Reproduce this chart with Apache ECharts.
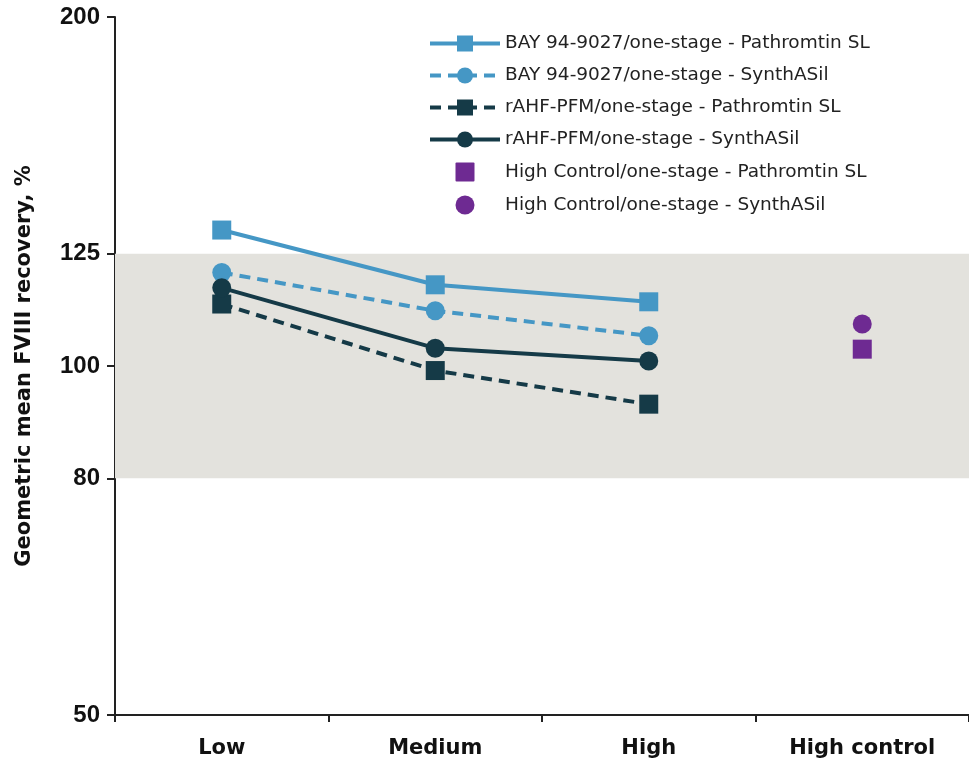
<!DOCTYPE html>
<html lang="en">
<head>
    <meta charset="UTF-8">
    <title>FVIII recovery</title>
    <style>
        html, body { margin: 0; padding: 0; background: #fff; }
        #main { width: 969px; height: 762px; }
    </style>
</head>
<body>
<div id="main"></div>
<script src="https://cdn.jsdelivr.net/npm/echarts@6/dist/echarts.min.js"></script>
<script>
    // categories and tick labels
    let categories = ['Low', 'Medium', 'High', 'High control'];
    let yTicks = [50, 80, 100, 125, 200];

    // geometric mean recovery, %
    let bayPathromtin = [131.0, 117.5, 113.6, null];
    let baySynthasil = [120.4, 111.6, 106.2, null];
    let rahfPathromtin = [113.1, 99.1, 92.7, null];
    let rahfSynthasil = [116.8, 103.6, 101.0, null];
    let ctrlPathromtin = [null, null, null, 103.4];
    let ctrlSynthasil = [null, null, null, 108.7];

    // acceptance band
    let bandRange = [80, 125];

    let lightBlue = '#4597c5';
    let darkTeal = '#153a47';
    let purple = '#6e2a92';

    // legend icons for the single markers
    let svgIcon = (shape) => 'image://data:image/svg+xml;utf8,' + encodeURIComponent(
        '<svg xmlns="http://www.w3.org/2000/svg" width="20" height="20">' + shape + '</svg>');
    let squareIcon = svgIcon('<rect x="0.5" y="0.5" width="19" height="19" rx="1" fill="' + purple + '"/>');
    let circleIcon = svgIcon('<circle cx="10" cy="10" r="9.5" fill="' + purple + '"/>');

    let lineSeries = (name, data, color, symbol, dashed) => ({
        name: name,
        type: 'line',
        data: data,
        symbol: symbol,
        symbolSize: 19,
        showSymbol: true,
        itemStyle: {color: color},
        lineStyle: {color: color, width: 4, type: dashed ? [11, 7] : 'solid'},
        z: 3
    });

    let myChart = echarts.init(document.getElementById('main'));
    let option = {
        animation: false,
        textStyle: {fontFamily: 'DejaVu Sans, sans-serif'},
        grid: {left: 115, right: 0, top: 17, bottom: 47},
        legend: {
            left: 423,
            top: 29,
            orient: 'vertical',
            itemGap: 13,
            itemWidth: 70,
            itemHeight: 20,
            lineStyle: {width: 4},
            textStyle: {fontSize: 18.5, color: '#222'},
            data: [
                'BAY 94-9027/one-stage - Pathromtin SL',
                'BAY 94-9027/one-stage - SynthASil',
                'rAHF-PFM/one-stage - Pathromtin SL',
                'rAHF-PFM/one-stage - SynthASil',
                {name: 'High Control/one-stage - Pathromtin SL', icon: squareIcon},
                {name: 'High Control/one-stage - SynthASil', icon: circleIcon}
            ]
        },
        xAxis: {
            type: 'category',
            data: categories,
            boundaryGap: true,
            axisLine: {lineStyle: {color: '#222', width: 2}},
            axisTick: {show: true, length: 7, lineStyle: {color: '#222', width: 2}},
            axisLabel: {fontSize: 21, fontWeight: 'bold', color: '#111', margin: 23}
        },
        yAxis: {
            type: 'log',
            logBase: 10,
            min: 50,
            max: 200,
            name: 'Geometric mean FVIII recovery, %',
            nameLocation: 'middle',
            nameGap: 80,
            nameTextStyle: {fontSize: 21, fontWeight: 'bold', color: '#111'},
            axisLine: {show: true, lineStyle: {color: '#222', width: 2}},
            axisTick: {show: true, length: 8, customValues: yTicks, lineStyle: {color: '#222', width: 2}},
            axisLabel: {
                fontSize: 24, fontWeight: 'bold', color: '#111', margin: 15,
                fontFamily: 'Liberation Sans, Arial, sans-serif', customValues: yTicks
            },
            splitLine: {show: false}
        },
        series: [
            Object.assign(lineSeries('BAY 94-9027/one-stage - Pathromtin SL', bayPathromtin, lightBlue, 'rect', false), {
                markArea: {
                    silent: true,
                    itemStyle: {color: '#e3e2dd'},
                    data: [[{yAxis: bandRange[0]}, {yAxis: bandRange[1]}]]
                }
            }),
            lineSeries('BAY 94-9027/one-stage - SynthASil', baySynthasil, lightBlue, 'circle', true),
            lineSeries('rAHF-PFM/one-stage - Pathromtin SL', rahfPathromtin, darkTeal, 'rect', true),
            lineSeries('rAHF-PFM/one-stage - SynthASil', rahfSynthasil, darkTeal, 'circle', false),
            {
                name: 'High Control/one-stage - Pathromtin SL',
                type: 'scatter',
                data: ctrlPathromtin,
                symbol: 'rect',
                symbolSize: 19,
                itemStyle: {color: purple, opacity: 1},
                z: 3
            },
            {
                name: 'High Control/one-stage - SynthASil',
                type: 'scatter',
                data: ctrlSynthasil,
                symbol: 'circle',
                symbolSize: 19,
                itemStyle: {color: purple, opacity: 1},
                z: 3
            }
        ]
    };
    myChart.setOption(option);
</script>
</body>
</html>
